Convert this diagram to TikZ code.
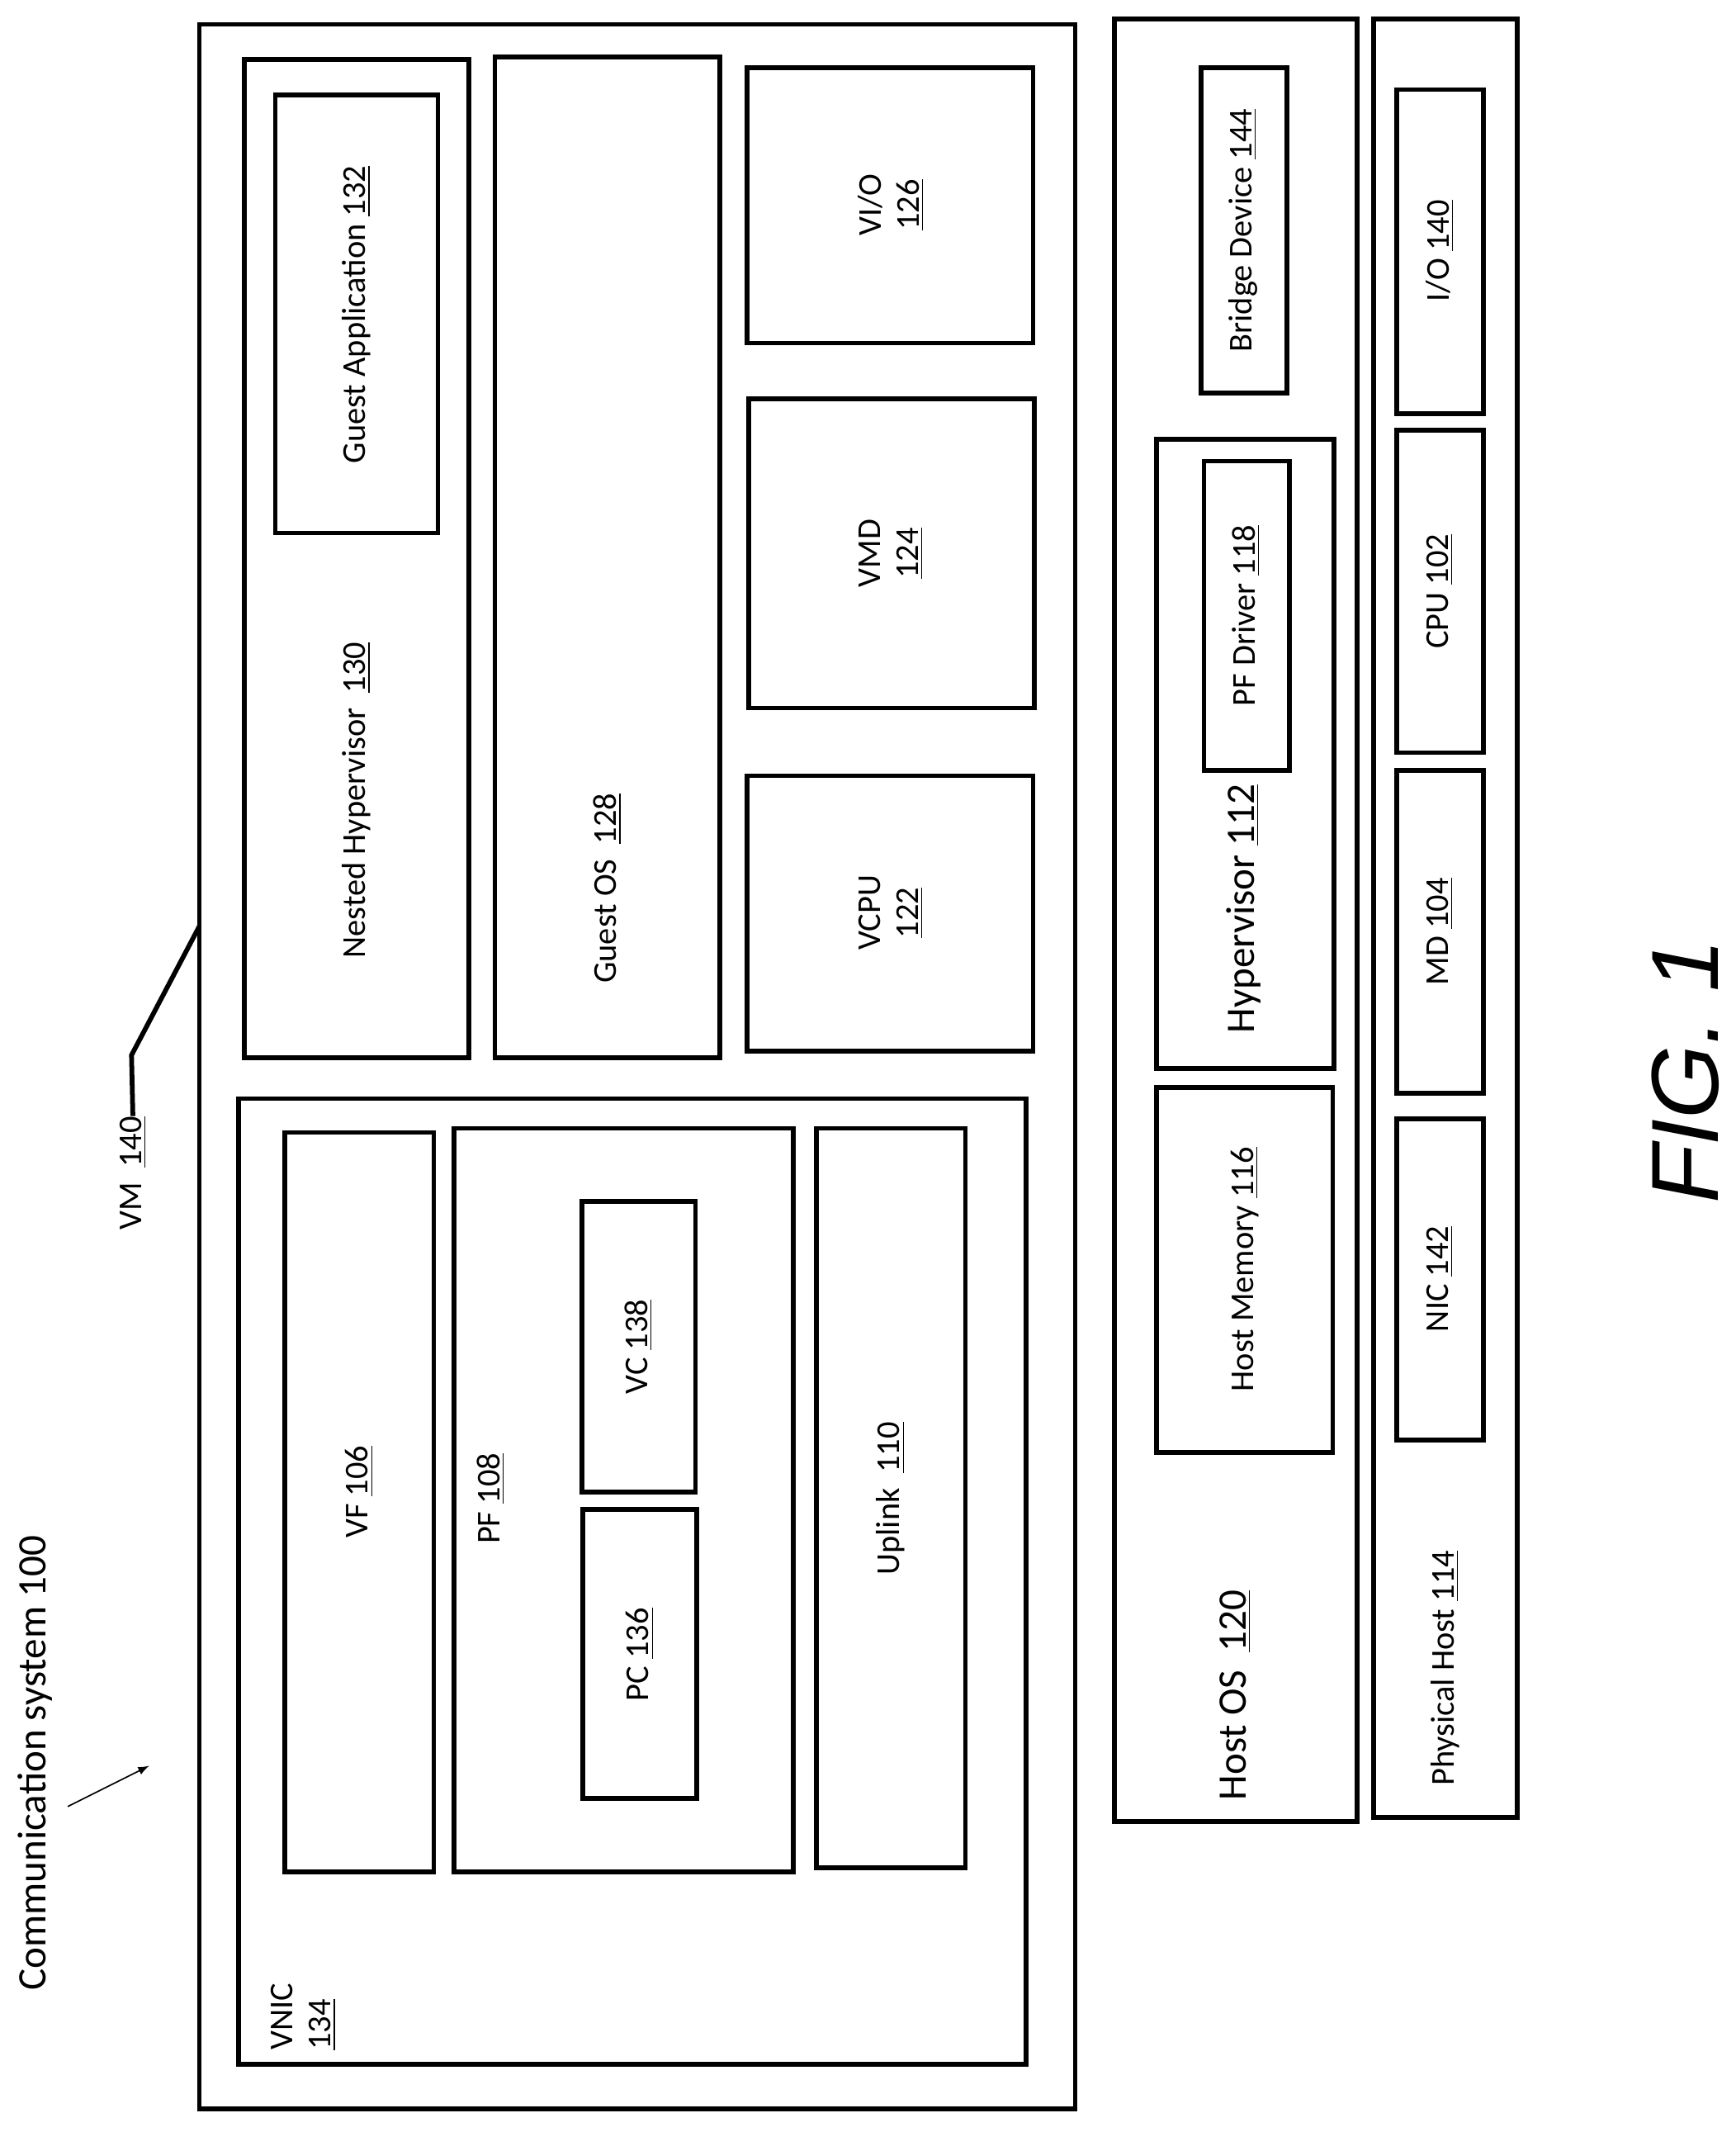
\documentclass[tikz,border=0pt]{standalone}
\usepackage{fontspec}
\setmainfont{Carlito}
\newfontfamily\figfont{Liberation Sans}
\begin{document}
\begin{tikzpicture}[x=0.02cm,y=-0.02cm,
  bx/.style={draw,line width=2pt},
  lb/.style={rotate=90,font=\fontsize{14}{16}\selectfont,inner sep=0pt}]
\useasboundingbox (0,0) rectangle (1280,1572);
\fill[white] (0,0) rectangle (1280,1572);
\newcommand{\bxx}[5]{\draw[bx] (#2,#3) rectangle (#4,#5) node[pos=0,inner sep=0pt] (#1) {};}
% VM
\draw[bx] (147,18) rectangle (793,1555);
\draw[bx] (180,44) rectangle (346,780);
\draw[bx] (203,70) rectangle (323,393);
\node[lb] (ga) at (263,232) {Guest Application \underline{132}};
\node[lb] (nh) at (263,590) {Nested Hypervisor \ \underline{130}};
\draw[bx] (365,42) rectangle (531,780);
\node[lb] (gos) at (448,655) {Guest OS \ \underline{128}};
\draw[bx] (551,50) rectangle (762,253);
\node[lb,align=center] (vio) at (657,151) {VI/O\\\underline{126}};
\draw[bx] (552,294) rectangle (763,522);
\node[lb,align=center] (vmd) at (657,408) {VMD\\\underline{124}};
\draw[bx] (551,572) rectangle (762,775);
\node[lb,align=center] (vcpu) at (657,673) {VCPU\\\underline{122}};
% VNIC
\draw[bx] (176,810) rectangle (757,1522);
\node[lb,align=left,anchor=south west] (vnic) at (248,1512) {VNIC\\\underline{134}};
\draw[bx] (210,835) rectangle (320,1380);
\node[lb] (vf) at (265,1100) {VF \underline{106}};
\draw[bx] (335,832) rectangle (585,1380);
\node[lb] (pf) at (362,1105) {PF \underline{108}};
\draw[bx] (430,1113) rectangle (514,1326);
\node[lb] (pc) at (472,1220) {PC \underline{136}};
\draw[bx] (429,886) rectangle (513,1100);
\node[lb] (vc) at (471,993) {VC \underline{138}};
\draw[bx] (602,832) rectangle (712,1377);
\node[lb] (up) at (657,1105) {Uplink \ \underline{110}};
% Host OS
\draw[bx] (822,14) rectangle (1001,1343);
\node[lb] (hos) at (911,1250) {\fontsize{17}{19}\selectfont Host OS \ \underline{120}};
\draw[bx] (886,50) rectangle (949,290);
\node[lb] (bd) at (917,170) {Bridge Device \underline{144}};
\draw[bx] (853,324) rectangle (984,788);
\node[lb] (hyp) at (917,670) {\fontsize{17}{19}\selectfont Hypervisor \underline{112}};
\draw[bx] (888,340) rectangle (951,568);
\node[lb] (pfd) at (919,454) {PF Driver \underline{118}};
\draw[bx] (853,802) rectangle (983,1071);
\node[lb] (hm) at (918,936) {Host Memory \underline{116}};
% Physical host
\draw[bx] (1013,14) rectangle (1119,1340);
\node[lb] (ph) at (1066,1230) {Physical Host \underline{114}};
\draw[bx] (1030,66) rectangle (1094,305);
\node[lb] (io) at (1062,185) {I/O \underline{140}};
\draw[bx] (1030,317) rectangle (1094,555);
\node[lb] (cpu) at (1062,436) {CPU \underline{102}};
\draw[bx] (1030,568) rectangle (1094,806);
\node[lb] (md) at (1062,687) {MD \underline{104}};
\draw[bx] (1030,825) rectangle (1094,1062);
\node[lb] (nic) at (1062,943) {NIC \underline{142}};
% labels
\node[lb] (vm) at (98,865) {VM \ \underline{140}};
\coordinate (vmc) at (147,683);
\draw[line width=2pt] (vm.east) -- (97,778) -- (vmc);
\node[lb] (cs) at (26,1300) {\fontsize{17}{19}\selectfont Communication system 100};
\coordinate (csa) at (110,1302);
\draw[-latex,line width=0.6pt] (50,1332) -- (csa);
\node[rotate=90,inner sep=0pt] (fig) at (1243,790) {\figfont\itshape\fontsize{40}{44}\selectfont FIG. 1};
\end{tikzpicture}
\end{document}
